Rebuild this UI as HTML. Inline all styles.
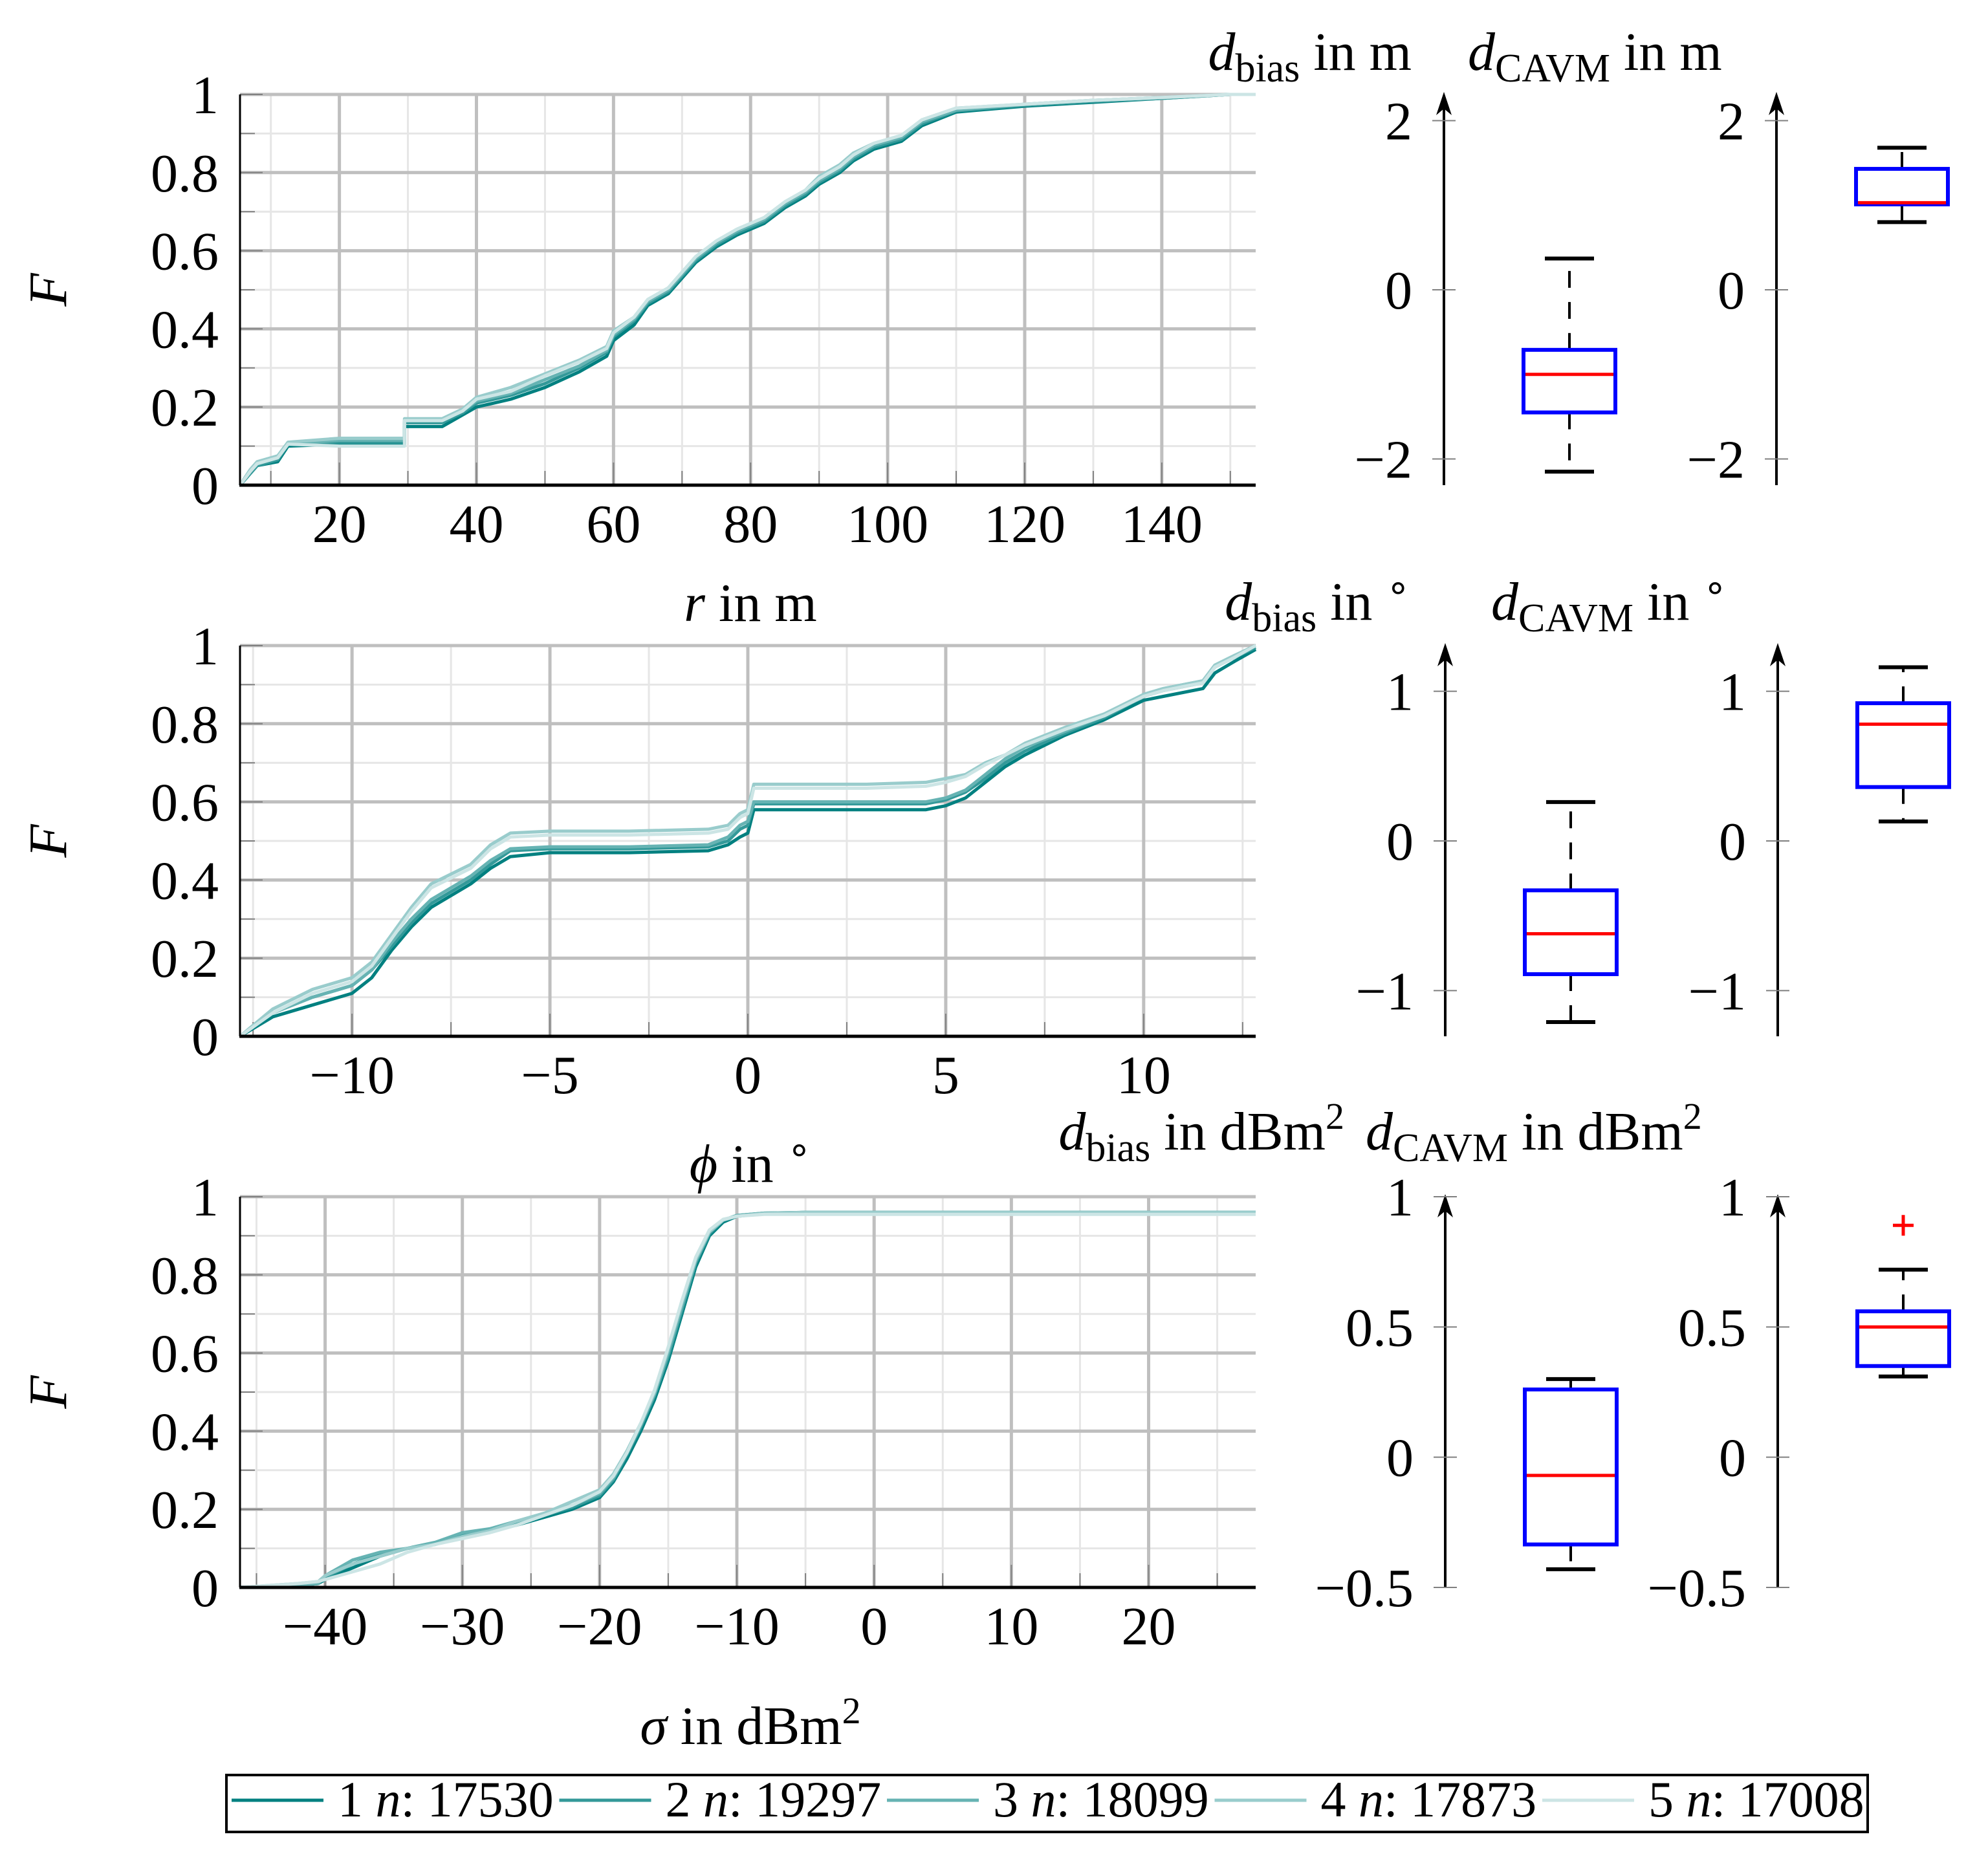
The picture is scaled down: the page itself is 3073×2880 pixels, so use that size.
<!DOCTYPE html>
<html><head><meta charset="utf-8"><style>
html,body{margin:0;padding:0;background:#fff;}
svg{display:block;font-family:"Liberation Serif",serif;}
</style></head><body>
<svg id="fig" width="3073" height="2880" viewBox="0 0 3073 2880" xmlns="http://www.w3.org/2000/svg">
<rect x="0" y="0" width="3073" height="2880" fill="#fff"/>
<g id="plots"></g>
<g font-size="84" fill="#000">
<text x="1160" y="960" text-anchor="middle"><tspan font-style="italic">r</tspan> in m</text>
<text x="1160" y="1827" text-anchor="middle"><tspan font-style="italic">ϕ</tspan> in <tspan dy="-30" font-size="60">∘</tspan></text>
<text x="1160" y="2696" text-anchor="middle"><tspan font-style="italic">σ</tspan> in dBm<tspan dy="-32" font-size="58">2</tspan></text>
<text transform="translate(102,448) rotate(-90)" text-anchor="middle" font-style="italic">F</text>
<text transform="translate(102,1300) rotate(-90)" text-anchor="middle" font-style="italic">F</text>
<text transform="translate(102,2152) rotate(-90)" text-anchor="middle" font-style="italic">F</text>
<text x="2182" y="108" text-anchor="end"><tspan font-style="italic">d</tspan><tspan dy="18" font-size="62">bias</tspan><tspan dy="-18"> in m</tspan></text>
<text x="2269" y="108"><tspan font-style="italic">d</tspan><tspan dy="18" font-size="62">CAVM</tspan><tspan dy="-18"> in m</tspan></text>
<text x="2180" y="958" text-anchor="end"><tspan font-style="italic">d</tspan><tspan dy="18" font-size="62">bias</tspan><tspan dy="-18"> in </tspan><tspan dy="-30" font-size="60">∘</tspan></text>
<text x="2305" y="958"><tspan font-style="italic">d</tspan><tspan dy="18" font-size="62">CAVM</tspan><tspan dy="-18"> in </tspan><tspan dy="-30" font-size="60">∘</tspan></text>
<text x="2078" y="1777" text-anchor="end"><tspan font-style="italic">d</tspan><tspan dy="18" font-size="62">bias</tspan><tspan dy="-18"> in dBm</tspan><tspan dy="-32" font-size="58">2</tspan></text>
<text x="2111" y="1777"><tspan font-style="italic">d</tspan><tspan dy="18" font-size="62">CAVM</tspan><tspan dy="-18"> in dBm</tspan><tspan dy="-32" font-size="58">2</tspan></text>
</g>
<g id="legend"></g>
</svg>
<script>
// ---- CDF data ----
const rX = [5.5,7,8,11,12.5,20,29.5,29.5,35,38,40,45,50,55,59,60,63,65,68,70,72,75,78,82,85,88,90,93,95,98,102,105,110,120,130,140,150,153.7];
const rF1 = [0,0.03,0.05,0.06,0.10,0.105,0.105,0.15,0.15,0.18,0.20,0.22,0.25,0.29,0.33,0.37,0.41,0.46,0.49,0.53,0.57,0.61,0.64,0.67,0.71,0.74,0.77,0.80,0.83,0.86,0.88,0.92,0.955,0.97,0.98,0.99,1.0,1.0];
const rF2 = [0,0.03,0.05,0.065,0.105,0.11,0.11,0.16,0.16,0.185,0.21,0.23,0.26,0.30,0.34,0.38,0.42,0.465,0.495,0.535,0.575,0.615,0.645,0.675,0.715,0.745,0.775,0.805,0.835,0.865,0.885,0.925,0.958,0.972,0.982,0.99,1.0,1.0];
const rF3 = [0,0.035,0.055,0.07,0.105,0.115,0.115,0.165,0.165,0.19,0.215,0.235,0.27,0.305,0.345,0.385,0.425,0.47,0.5,0.54,0.58,0.62,0.65,0.68,0.72,0.75,0.78,0.81,0.84,0.87,0.89,0.93,0.96,0.975,0.985,0.992,1.0,1.0];
const rF4 = [0,0.04,0.06,0.075,0.11,0.12,0.12,0.17,0.17,0.195,0.225,0.25,0.285,0.32,0.355,0.395,0.43,0.475,0.505,0.545,0.585,0.625,0.655,0.685,0.725,0.755,0.79,0.82,0.85,0.875,0.895,0.935,0.965,0.975,0.985,0.992,1.0,1.0];
const rF5 = [0,0.035,0.055,0.07,0.105,0.10,0.10,0.165,0.165,0.19,0.22,0.24,0.28,0.315,0.35,0.39,0.43,0.475,0.505,0.545,0.585,0.625,0.655,0.685,0.725,0.755,0.785,0.815,0.845,0.875,0.895,0.935,0.965,0.975,0.985,0.992,1.0,1.0];

const pX = [-12.83,-12,-11,-10,-9.5,-9,-8.5,-8,-7,-6.5,-6,-5,-3,-1,-0.5,-0.2,0,0.15,3,4.5,5,5.5,6,6.5,7,8,9,10,10.5,11.5,11.8,12.3,12.83];
const pF1 = [0,0.05,0.08,0.11,0.15,0.22,0.28,0.33,0.39,0.43,0.46,0.47,0.47,0.475,0.49,0.51,0.52,0.58,0.58,0.58,0.59,0.61,0.65,0.69,0.72,0.77,0.81,0.86,0.87,0.89,0.93,0.96,0.99];
const pF2 = [0,0.06,0.10,0.13,0.17,0.23,0.29,0.34,0.40,0.44,0.475,0.48,0.48,0.485,0.50,0.53,0.54,0.595,0.595,0.595,0.605,0.625,0.66,0.70,0.73,0.775,0.815,0.87,0.885,0.905,0.945,0.97,0.995];
const pF3 = [0,0.06,0.10,0.13,0.17,0.24,0.30,0.35,0.41,0.45,0.48,0.485,0.485,0.49,0.51,0.54,0.55,0.60,0.60,0.60,0.61,0.63,0.67,0.71,0.74,0.78,0.82,0.875,0.89,0.91,0.95,0.975,1.0];
const pF4 = [0,0.07,0.12,0.15,0.19,0.26,0.33,0.39,0.44,0.49,0.52,0.525,0.525,0.53,0.54,0.57,0.58,0.645,0.645,0.65,0.66,0.67,0.70,0.72,0.75,0.79,0.825,0.875,0.89,0.91,0.95,0.975,1.0];
const pF5 = [0,0.06,0.11,0.14,0.18,0.25,0.32,0.38,0.43,0.48,0.51,0.515,0.515,0.52,0.53,0.56,0.57,0.635,0.635,0.64,0.65,0.665,0.695,0.72,0.745,0.785,0.82,0.87,0.885,0.905,0.945,0.97,1.0];

const sX = [-46.2,-42,-40.5,-40,-38,-36,-34,-32,-30,-28,-26,-24,-22,-20,-19,-18,-17,-16,-15,-14,-13,-12,-11,-10,-8,-5,27.8];
const sF1 = [0,0.005,0.01,0.02,0.05,0.08,0.10,0.11,0.13,0.145,0.16,0.18,0.20,0.23,0.27,0.33,0.40,0.48,0.58,0.70,0.82,0.90,0.935,0.95,0.957,0.96,0.96];
const sF2 = [0,0.005,0.01,0.025,0.06,0.085,0.10,0.115,0.135,0.15,0.165,0.185,0.205,0.235,0.275,0.34,0.41,0.49,0.59,0.71,0.83,0.905,0.94,0.952,0.958,0.96,0.96];
const sF3 = [0,0.005,0.01,0.03,0.07,0.09,0.10,0.115,0.14,0.15,0.17,0.19,0.21,0.24,0.28,0.345,0.415,0.495,0.60,0.72,0.835,0.91,0.94,0.952,0.958,0.96,0.96];
const sF4 = [0,0.01,0.015,0.03,0.06,0.08,0.10,0.11,0.13,0.145,0.17,0.19,0.22,0.25,0.29,0.35,0.42,0.50,0.61,0.73,0.84,0.91,0.94,0.95,0.957,0.96,0.96];
const sF5 = [0,0.01,0.015,0.02,0.04,0.06,0.09,0.11,0.125,0.14,0.16,0.185,0.21,0.245,0.285,0.345,0.42,0.505,0.615,0.735,0.845,0.915,0.942,0.95,0.955,0.955,0.955];

const rTicks = [20,40,60,80,100,120,140];
const pTicks = [-10,-5,0,5,10];
const sTicks = [-40,-30,-20,-10,0,10,20];
const fTicks = [0,0.2,0.4,0.6,0.8,1];
const fTickLabels = ["0","0.2","0.4","0.6","0.8","1"];

// ---- box plot data: [whiskerLow, q1, median, q3, whiskerHigh] ----
const biasM = [-2.15,-1.45,-1.0,-0.71,0.37];
const cavmM = [0.80,1.01,1.03,1.43,1.68];
const biasDeg = [-1.21,-0.89,-0.62,-0.33,0.26];
const cavmDeg = [0.13,0.36,0.78,0.92,1.16];
const biasDbm = [-0.43,-0.335,-0.07,0.26,0.30];
const cavmDbm = [0.31,0.35,0.50,0.56,0.72];
const cavmDbmOutliers = [0.89];
const boxTicksM = [-2,0,2];
const boxTicksDeg = [-1,0,1];
const boxTicksDbm = [-0.5,0,0.5,1];

const legendLabels = ["1","2","3","4","5"];
const legendCounts = ["17530","19297","18099","17873","17008"];
const colors = ["#008080","#339999","#66b3b3","#99cccc","#cce5e5"];

const NS = "http://www.w3.org/2000/svg";
const root = document.getElementById("plots");
function mk(tag, attrs, parent){
  const e = document.createElementNS(NS, tag);
  for (const k in attrs) e.setAttribute(k, attrs[k]);
  (parent||root).appendChild(e);
  return e;
}
const fmt = v => (v<0 ? "\u2212"+String(-v) : String(v));

const L = 371, R = 1941;
function cdfPanel(name, top, xmin, xmax, xs, series, ticks, minorStep){
  const bot = top + 604;
  const sx = v => L + (v - xmin) / (xmax - xmin) * (R - L);
  const sy = v => bot - v * (bot - top);
  const g = mk("g", {});
  
  
  for (let v = Math.ceil(xmin / minorStep) * minorStep; v <= xmax; v += minorStep) {
    const isMajor = ticks.some(t => Math.abs(t - v) < 1e-6);
    if (isMajor) continue;
    const ln = mk("line", {x1:sx(v), x2:sx(v), y1:top, y2:bot, stroke:"#e6e6e6", "stroke-width":3}, g);
    
    
    const tk = mk("line", {x1:sx(v), x2:sx(v), y1:bot, y2:bot-22, stroke:"#808080", "stroke-width":2}, g);
    
    
  }
  for (let i = 0; i < 10; i++) {
    if (i % 2 === 0) continue;
    const v = i / 10;
    const ln = mk("line", {x1:L, x2:R, y1:sy(v), y2:sy(v), stroke:"#e6e6e6", "stroke-width":3}, g);
    
    
    const tk = mk("line", {x1:L, x2:L+23, y1:sy(v), y2:sy(v), stroke:"#808080", "stroke-width":2}, g);
    
    
  }
  ticks.forEach(v => {
    const ln = mk("line", {x1:sx(v), x2:sx(v), y1:top, y2:bot, stroke:"#bfbfbf", "stroke-width":5}, g);
    
    
    const tk = mk("line", {x1:sx(v), x2:sx(v), y1:bot, y2:bot-35, stroke:"#808080", "stroke-width":2}, g);
    
    
    const t = mk("text", {x:sx(v), y:bot+88, "text-anchor":"middle", "font-size":84}, g);
    
    
    t.textContent = fmt(v);
  });
  fTicks.forEach((v, i) => {
    const ln = mk("line", {x1:L, x2:R, y1:sy(v), y2:sy(v), stroke:"#bfbfbf", "stroke-width":5}, g);
    
    
    const tk = mk("line", {x1:L, x2:L+35, y1:sy(v), y2:sy(v), stroke:"#808080", "stroke-width":2}, g);
    
    
    const t = mk("text", {x:338, y:sy(v)+29, "text-anchor":"end", "font-size":84}, g);
    
    
    t.textContent = fTickLabels[i];
  });
  series.forEach((ys, k) => {
    const pts = xs.map((x, i) => sx(x).toFixed(1) + "," + sy(ys[i]).toFixed(1)).join(" ");
    const pl = mk("polyline", {points:pts, fill:"none", stroke:colors[k], "stroke-width":5, "stroke-linejoin":"round"}, g);
    
    
  });
  const ya = mk("line", {x1:L, x2:L, y1:top, y2:bot, stroke:"#000", "stroke-width":3}, g);
  
  
  const xa = mk("line", {x1:L-1, x2:R, y1:bot, y2:bot, stroke:"#000", "stroke-width":5}, g);
  
  
}

cdfPanel("range", 146, 5.5, 153.7, rX, [rF1,rF2,rF3,rF4,rF5], rTicks, 10);
cdfPanel("azimuth", 998, -12.83, 12.83, pX, [pF1,pF2,pF3,pF4,pF5], pTicks, 2.5);
cdfPanel("rcs", 1850, -46.2, 27.8, sX, [sF1,sF2,sF3,sF4,sF5], sTicks, 5);

function boxPanel(name, axisX, top, vmin, vmax, ticks, stats, outliers){
  const bot = top + 604;
  const sy = v => bot - (v - vmin) / (vmax - vmin) * (bot - top);
  const g = mk("g", {});
  
  
  const ax = mk("line", {x1:axisX, x2:axisX, y1:top+22, y2:bot, stroke:"#000", "stroke-width":4}, g);
  
  
  const ar = mk("path", {d:`M${axisX},${top-4} L${axisX-12},${top+32} L${axisX},${top+22} L${axisX+12},${top+32} Z`, fill:"#000"}, g);
  
  
  ticks.forEach(v => {
    const tk = mk("line", {x1:axisX-18, x2:axisX+18, y1:sy(v), y2:sy(v), stroke:"#808080", "stroke-width":2}, g);
    
    
    const t = mk("text", {x:axisX-49, y:sy(v)+29, "text-anchor":"end", "font-size":84}, g);
    
    
    t.textContent = fmt(v);
  });
  const cx = axisX + 194, bw = 142, cw = 76;
  const [wl, q1, md, q3, wh] = stats;
  const w1 = mk("line", {x1:cx, x2:cx, y1:sy(q3), y2:sy(wh), stroke:"#000", "stroke-width":4, "stroke-dasharray":"26,22"}, g);
  
  
  const w2 = mk("line", {x1:cx, x2:cx, y1:sy(q1), y2:sy(wl), stroke:"#000", "stroke-width":4, "stroke-dasharray":"26,22"}, g);
  
  
  const c1 = mk("line", {x1:cx-cw/2, x2:cx+cw/2, y1:sy(wh), y2:sy(wh), stroke:"#000", "stroke-width":6}, g);
  
  
  const c2 = mk("line", {x1:cx-cw/2, x2:cx+cw/2, y1:sy(wl), y2:sy(wl), stroke:"#000", "stroke-width":6}, g);
  
  
  const bx = mk("rect", {x:cx-bw/2, y:sy(q3), width:bw, height:sy(q1)-sy(q3), fill:"#fff", stroke:"#0000ff", "stroke-width":6}, g);
  
  
  const m = mk("line", {x1:cx-bw/2+3, x2:cx+bw/2-3, y1:sy(md), y2:sy(md), stroke:"#ff0000", "stroke-width":5}, g);
  
  
  (outliers||[]).forEach(v => {
    const o = mk("path", {d:`M${cx-16},${sy(v)} h32 M${cx},${sy(v)-16} v32`, stroke:"#ff0000", "stroke-width":5}, g);
    
    
  });
}

boxPanel("bias-range", 2232, 146, -2.31, 2.31, boxTicksM, biasM);
boxPanel("cavm-range", 2746, 146, -2.31, 2.31, boxTicksM, cavmM);
boxPanel("bias-azimuth", 2234, 998, -1.305, 1.305, boxTicksDeg, biasDeg);
boxPanel("cavm-azimuth", 2748, 998, -1.305, 1.305, boxTicksDeg, cavmDeg);
boxPanel("bias-rcs", 2234, 1850, -0.5, 1.0, boxTicksDbm, biasDbm);
boxPanel("cavm-rcs", 2748, 1850, -0.5, 1.0, boxTicksDbm, cavmDbm, cavmDbmOutliers);

// ---- legend ----
const lg = document.getElementById("legend");
const frame = mk("rect", {x:350, y:2744, width:2537, height:88, fill:"#fff", stroke:"#000", "stroke-width":4}, lg);


legendLabels.forEach((lab, i) => {
  const x0 = 358 + i * 506.5;
  const ln = mk("line", {x1:x0, x2:x0+142, y1:2783, y2:2783, stroke:colors[i], "stroke-width":5}, lg);
  
  
  const t = mk("text", {x:x0+164, y:2808, "font-size":78}, lg);
  
  
  t.innerHTML = lab + ' <tspan font-style="italic">n</tspan>: ' + legendCounts[i];
});
</script>
</body></html>
